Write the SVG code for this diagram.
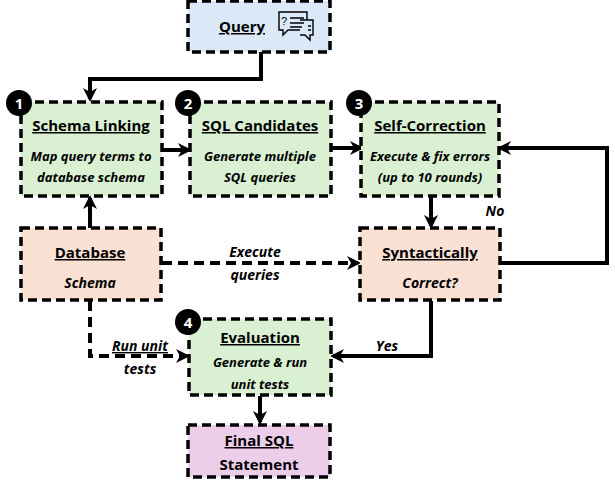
<svg xmlns="http://www.w3.org/2000/svg" width="615" height="487" viewBox="0 0 615 487">
<defs>
<marker id="ahs" markerWidth="14" markerHeight="14" refX="11" refY="7" orient="auto" markerUnits="userSpaceOnUse" viewBox="0 0 14 14"><path d="M0,0 L14,7 L0,14 L4,7 z" fill="#000"/></marker>
</defs>
<style>
.box{stroke:#000;stroke-width:3.5;stroke-dasharray:9,5}
.t{font-family:"Open Sans","Liberation Sans",sans-serif;font-weight:bold;font-size:15px;text-anchor:middle;text-decoration:underline}
.i{font-family:"Open Sans","Liberation Sans",sans-serif;font-weight:bold;font-style:italic;font-size:13px;text-anchor:middle}
.l{font-family:"Open Sans","Liberation Sans",sans-serif;font-weight:bold;font-style:italic;font-size:14px;text-anchor:middle}
.n{font-family:"Open Sans","Liberation Sans",sans-serif;font-weight:bold;font-size:15px;text-anchor:middle;fill:#fff}
.c{fill:none;stroke:#000;stroke-width:4}
.d{fill:none;stroke:#000;stroke-width:4;stroke-dasharray:10,6}
</style>
<g id="connectors">
<path class="c" d="M261,52 V79 H90 V99" marker-end="url(#ahs)"/>
<path class="c" d="M90,228 V198" marker-end="url(#ahs)"/>
<path class="c" d="M163,150 H189" marker-end="url(#ahs)"/>
<path class="c" d="M332,148 H361" marker-end="url(#ahs)"/>
<path class="c" d="M431,197 V226" marker-end="url(#ahs)"/>
<path class="c" d="M501,263 H607 V148 H500" marker-end="url(#ahs)"/>
<path class="d" d="M162,263 H358" marker-end="url(#ahs)"/>
<path class="d" d="M90,301 V356 H187" marker-end="url(#ahs)"/>
<path class="c" d="M431,301 V356 H333" marker-end="url(#ahs)"/>
<path class="c" d="M260,396 V422" marker-end="url(#ahs)"/>
<text class="l" x="495" y="216">No</text>
<text class="l" x="255" y="257">Execute</text>
<text class="l" x="255" y="280">queries</text>
<text class="l" x="140" y="351" style="text-decoration:underline">Run unit</text>
<text class="l" x="140" y="374">tests</text>
<text class="l" x="387" y="351">Yes</text>
</g>
<g id="query">
<rect class="box" x="188" y="1" width="142" height="51" fill="#dae8f8"/>
<text class="t" x="242" y="32">Query</text>
<g fill="none" stroke="#000" stroke-width="1.4">
<path d="M279,12 h28 v18 h-19 l-5,5 v-5 h-4 z"/>
<path d="M300,20 h13 v15 h-3 v5 l-5,-5 h-5" fill="#dae8f8"/>
<path d="M290,18 h14 M290,23 h14 M290,27 h12 M308,26 h3 M308,30 h3"/>
</g>
<text x="281" y="25" font-family="Liberation Sans,sans-serif" font-size="11">?</text>
</g>
<g id="schema-linking">
<rect class="box" x="21" y="102" width="141" height="94" fill="#d9f0d3"/>
<text class="t" x="91" y="131">Schema Linking</text>
<text class="i" x="91" y="161">Map query terms to</text>
<text class="i" x="91" y="182">database schema</text>
<circle cx="19" cy="103" r="13"/><text class="n" x="19" y="109">1</text>
</g>
<g id="sql-candidates">
<rect class="box" x="190" y="102" width="141" height="94" fill="#d9f0d3"/>
<text class="t" x="260" y="131">SQL Candidates</text>
<text class="i" x="260" y="161">Generate multiple</text>
<text class="i" x="260" y="182">SQL queries</text>
<circle cx="188" cy="103" r="13"/><text class="n" x="188" y="109">2</text>
</g>
<g id="self-correction">
<rect class="box" x="361" y="102" width="138" height="94" fill="#d9f0d3"/>
<text class="t" x="430" y="131">Self-Correction</text>
<text class="i" x="430" y="161">Execute &amp; fix errors</text>
<text class="i" x="430" y="182">(up to 10 rounds)</text>
<circle cx="359" cy="103" r="13"/><text class="n" x="359" y="109">3</text>
</g>
<g id="database">
<rect class="box" x="21" y="228" width="140" height="72" fill="#fbe0d4"/>
<text class="t" x="90" y="258">Database</text>
<text class="l" x="90" y="288">Schema</text>
</g>
<g id="syntactically">
<rect class="box" x="360" y="228" width="140" height="72" fill="#fbe0d4"/>
<text class="t" x="430" y="258">Syntactically</text>
<text class="l" x="430" y="288">Correct?</text>
</g>
<g id="evaluation">
<rect class="box" x="189" y="319" width="142" height="76" fill="#d9f0d3"/>
<text class="t" x="260" y="343">Evaluation</text>
<text class="i" x="260" y="367">Generate &amp; run</text>
<text class="i" x="260" y="389">unit tests</text>
<circle cx="188" cy="322" r="13"/><text class="n" x="188" y="328">4</text>
</g>
<g id="final">
<rect class="box" x="188" y="425" width="142" height="52" fill="#eccdea"/>
<text class="t" x="259" y="446">Final SQL</text>
<text class="t" x="259" y="470" style="text-decoration:none">Statement</text>
</g>
</svg>
